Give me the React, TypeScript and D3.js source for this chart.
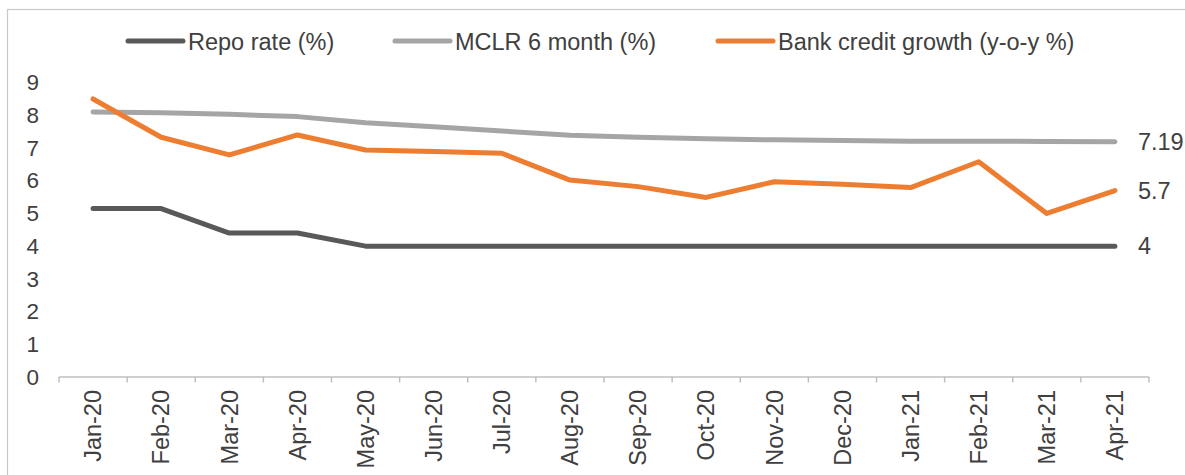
import React, { useEffect, useRef } from 'react';
import * as d3 from 'd3';

const months = ['Jan-20', 'Feb-20', 'Mar-20', 'Apr-20', 'May-20', 'Jun-20', 'Jul-20', 'Aug-20',
  'Sep-20', 'Oct-20', 'Nov-20', 'Dec-20', 'Jan-21', 'Feb-21', 'Mar-21', 'Apr-21'];
const repoRate = [5.15, 5.15, 4.4, 4.4, 4, 4, 4, 4, 4, 4, 4, 4, 4, 4, 4, 4];
const mclr6m = [8.1, 8.08, 8.03, 7.96, 7.77, 7.65, 7.52, 7.39, 7.33, 7.28, 7.25, 7.23, 7.21, 7.21, 7.2, 7.19];
const creditGrowth = [8.5, 7.33, 6.79, 7.4, 6.94, 6.89, 6.84, 6.02, 5.82, 5.49, 5.97, 5.89, 5.79, 6.58, 5.0, 5.7];
const yTicks = [0, 1, 2, 3, 4, 5, 6, 7, 8, 9];

const seriesList = [
  { name: 'Repo rate (%)', values: repoRate, color: '#595959', label: '4' },
  { name: 'MCLR 6 month (%)', values: mclr6m, color: '#a5a5a5', label: '7.19' },
  { name: 'Bank credit growth (y-o-y %)', values: creditGrowth, color: '#ed7d31', label: '5.7' },
];

const W = 1185;
const H = 475;
const FONT = '"Liberation Sans", Arial, sans-serif';
const TEXT = '#404040';

export default function App() {
  const svgRef = useRef<SVGSVGElement>(null);

  useEffect(() => {
    const svg = d3.select(svgRef.current);
    svg.selectAll('*').remove();

    svg.append('rect')
      .attr('x', 7.5).attr('y', 9.5)
      .attr('width', 1200).attr('height', 500)
      .attr('fill', '#fff')
      .attr('stroke', '#c8c8c8')
      .attr('stroke-width', 1.2);

    const x = d3.scaleBand().domain(months).range([59, 1149]);
    const y = d3.scaleLinear().domain([0, 9]).range([377, 82.6]);
    const cx = (m: string) => (x(m) as number) + x.bandwidth() / 2;

    // y labels (no axis line)
    svg.append('g')
      .selectAll('text')
      .data(yTicks)
      .join('text')
      .attr('x', 39)
      .attr('y', d => y(d))
      .attr('dy', '0.34em')
      .attr('text-anchor', 'end')
      .attr('font-family', FONT)
      .attr('font-size', 22.5)
      .attr('fill', TEXT)
      .text(d => d);

    // x axis
    const xa = svg.append('g');
    xa.append('line')
      .attr('x1', 59).attr('x2', 1149)
      .attr('y1', y(0)).attr('y2', y(0))
      .attr('stroke', '#bfbfbf').attr('stroke-width', 1.5);
    xa.selectAll('line.tick')
      .data(d3.range(months.length + 1))
      .join('line')
      .attr('class', 'tick')
      .attr('x1', i => 59 + i * x.step()).attr('x2', i => 59 + i * x.step())
      .attr('y1', y(0)).attr('y2', y(0) + 5.5)
      .attr('stroke', '#bfbfbf').attr('stroke-width', 1.5);
    xa.selectAll('text')
      .data(months)
      .join('text')
      .attr('transform', d => `translate(${cx(d)},390) rotate(-90)`)
      .attr('text-anchor', 'end')
      .attr('dy', '0.35em')
      .attr('font-family', FONT)
      .attr('font-size', 23.5)
      .attr('fill', TEXT)
      .text(d => d);

    const line = d3.line<number>()
      .x((_, i) => cx(months[i]))
      .y(d => y(d));

    seriesList.forEach(s => {
      svg.append('path')
        .attr('d', line(s.values))
        .attr('fill', 'none')
        .attr('stroke', s.color)
        .attr('stroke-width', 5)
        .attr('stroke-linecap', 'round')
        .attr('stroke-linejoin', 'round');
      const last = s.values[s.values.length - 1];
      svg.append('text')
        .attr('x', cx(months[months.length - 1]) + 23)
        .attr('y', y(last))
        .attr('dy', '0.35em')
        .attr('font-family', FONT)
        .attr('font-size', 23.5)
        .attr('fill', TEXT)
        .text(s.label);
    });

    // legend
    const legendX = [128, 395, 718];
    const lg = svg.append('g');
    seriesList.forEach((s, i) => {
      lg.append('line')
        .attr('x1', legendX[i]).attr('x2', legendX[i] + 55)
        .attr('y1', 41).attr('y2', 41)
        .attr('stroke', s.color)
        .attr('stroke-width', 5)
        .attr('stroke-linecap', 'round');
      lg.append('text')
        .attr('x', legendX[i] + 60)
        .attr('y', 49.5)
        .attr('font-family', FONT)
        .attr('font-size', 23.5)
        .attr('fill', TEXT)
        .text(s.name);
    });
  }, []);

  return (
    <svg
      ref={svgRef}
      width={W}
      height={H}
      style={{ position: 'absolute', left: 0, top: 0, background: '#fff' }}
    />
  );
}
